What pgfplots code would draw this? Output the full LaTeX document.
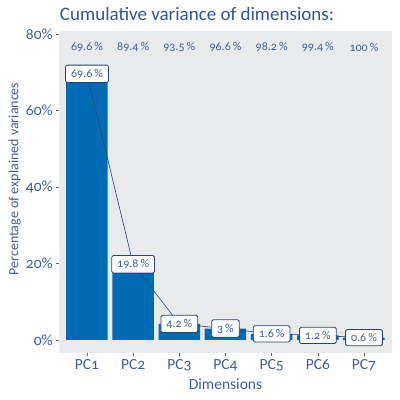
\documentclass[border=0pt]{standalone}
\usepackage{pgfplots}
\pgfplotsset{compat=1.18}
\usepackage{fontspec}
\setmainfont{Carlito}[Numbers=OldStyle]
\definecolor{barblue}{RGB}{0,107,179}
\definecolor{navy}{RGB}{38,68,120}
\definecolor{txtblue}{RGB}{62,96,152}
\definecolor{titleblue}{RGB}{52,84,140}
\definecolor{panel}{RGB}{233,234,236}
\pgfplotstableread{
x y lab
1 69.6 {69.6\,\%}
2 19.8 {19.8\,\%}
3 4.2 {4.2\,\%}
4 3 {3\,\%}
5 1.6 {1.6\,\%}
6 1.2 {1.2\,\%}
7 0.6 {0.6\,\%}
}\vartable
\pgfplotstableread{
x y lab
1 76.6 {69.6\,\%}
2 76.6 {89.4\,\%}
3 76.6 {93.5\,\%}
4 76.6 {96.6\,\%}
5 76.6 {98.2\,\%}
6 76.6 {99.4\,\%}
7 76.6 {100\,\%}
}\cumtable
\begin{document}
\begin{tikzpicture}
\useasboundingbox (-59.3pt,-47pt) rectangle (340.7pt,353pt);
\begin{axis}[at={(0,0)},anchor=south west,scale only axis,
  width=332.4pt,height=322pt,
  xmin=0.4,xmax=7.6,ymin=-3.4,ymax=80.78,
  axis background/.style={fill=panel},
  axis line style={draw=none},
  xtick={1,2,3,4,5,6,7},
  xticklabels={PC1,PC2,PC3,PC4,PC5,PC6,PC7},
  ytick={0,20,40,60,80},
  yticklabels={0\%,20\%,40\%,60\%,80\%},
  tick align=outside,
  major tick length=3pt,
  tick style={draw=black!60, line width=0.6pt},
  xtick pos=bottom, ytick pos=left,
  ticklabel style={font=\fontsize{15.5}{15.5}\selectfont, text=txtblue},
  clip=false,
]
\addplot[ybar, bar width=41.5pt, fill=barblue, draw=none] table[x=x,y=y] {\vartable};
\addplot[navy, line width=0.6pt, mark=none,
  point meta=explicit symbolic,
  nodes near coords,
  every node near coord/.append style={anchor=center, fill=white, draw=navy,
    line width=0.8pt, rounded corners=1.5pt, inner xsep=5.5pt, inner ysep=4pt,
    font=\fontsize{12}{12}\selectfont, text=txtblue},
] table[x=x,y=y,meta=lab] {\vartable};
\addplot[draw=none, mark=none,
  point meta=explicit symbolic,
  nodes near coords,
  every node near coord/.append style={anchor=center, inner sep=0pt,
    font=\fontsize{12}{12}\selectfont, text=txtblue},
] table[x=x,y=y,meta=lab] {\cumtable};
\end{axis}
\node[anchor=base west, text=titleblue, font=\fontsize{19}{19}\selectfont, inner sep=0pt] at (0.5pt,332.3pt) {Cumulative variance of dimensions:};
\node[anchor=base, text=txtblue, font=\fontsize{15.5}{15.5}\selectfont, inner sep=0pt] at (166.2pt,-36pt) {Dimensions};
\node[anchor=base, rotate=90, text=txtblue, font=\fontsize{14}{14}\selectfont, inner sep=0pt] at (-41pt,174pt) {Percentage of explained variances};
\end{tikzpicture}
\end{document}
